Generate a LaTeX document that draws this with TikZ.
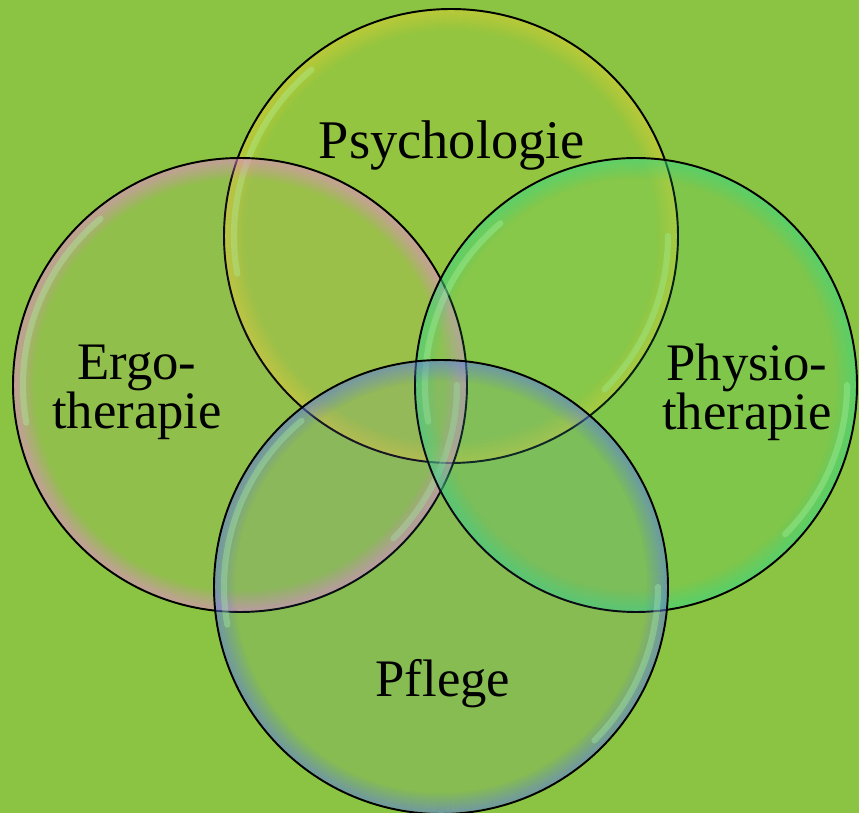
\documentclass[tikz,border=0pt]{standalone}
\usepackage{fontspec}
\setmainfont{Liberation Serif}
\usepackage{xcolor}
\usetikzlibrary{positioning}
\definecolor{bg}{RGB}{139,196,66}
\definecolor{psycol}{RGB}{215,205,50}
\definecolor{ergocol}{RGB}{235,135,215}
\definecolor{physcol}{RGB}{60,215,130}
\definecolor{pflcol}{RGB}{95,125,225}

\begin{document}
\begin{tikzpicture}[x=0.02cm, y=-0.02cm,
    venntext/.style={font=\fontsize{30}{28}\selectfont, align=center, text=black},
    bubbleedge/.style={draw=black, line width=1.1pt},
    shine/.style={white!70!green, line width=3.5pt, line cap=round, opacity=0.3}]
  \fill[bg] (0,0) rectangle (859,813);
  \useasboundingbox (0,0) rectangle (859,813);

  % the four bubbles
  \foreach \n/\cx/\cy/\rx/\ry/\col/\tint in {psy/451/236/227/227/psycol/0.12,
      ergo/240/385/227/227/ergocol/0.07, phys/636/385/221/227/physcol/0.14,
      pfl/441/587/227/227/pflcol/0.1} {
    \coordinate (\n) at (\cx,\cy);
    \fill[\col, opacity=\tint] (\n) circle[x radius=\rx, y radius=\ry];
    \foreach \i in {1,...,10}
      \draw[\col, line width=1.2pt, opacity={0.55-0.05*\i}]
        (\n) circle[x radius={\rx-2*\i}, y radius={\ry-2*\i}];
    \draw[shine] ([shift={(-130:{\rx-10})}]\n)
      arc[start angle=-130, end angle=-190, radius={\rx-10}];
    \draw[shine] ([shift={(0:{\rx-10})}]\n)
      arc[start angle=0, end angle=45, radius={\rx-10}];
    \draw[bubbleedge] (\n) circle[x radius=\rx, y radius=\ry];
  }

  % texts
  \node[venntext, font=\fontsize{31}{28}\selectfont, anchor=base]
    (psylbl) at (452,159) {Psychologie};
  \node[venntext] (ergolbl) at (137,392) {Ergo-\\therapie};
  \node[venntext] (physlbl) at (747,392) {Physio-\\therapie};
  \node[venntext, anchor=base] (pfllbl) at (443,697) {Pflege};
\end{tikzpicture}
\end{document}
